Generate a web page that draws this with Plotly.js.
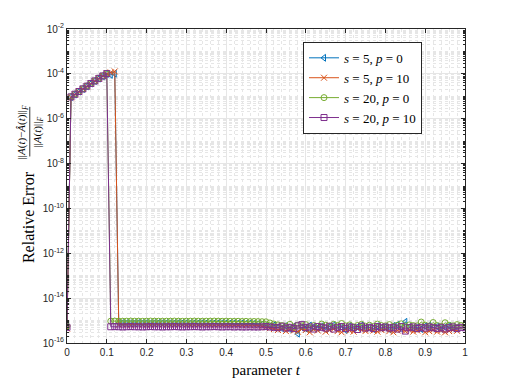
<!DOCTYPE html>
<html><head><meta charset="utf-8">
<script src="https://cdn.plot.ly/plotly-3.0.1.min.js"></script>
<style>body{margin:0;background:#fff}#plot{width:514px;height:385px}</style>
</head><body><div id="plot"></div>
<script>
// parameter t
const tValues = [0,0.01,0.02,0.03,0.04,0.05,0.06,0.07,0.08,0.09,0.10,0.11,0.12,0.13,0.14,0.15,0.16,0.17,0.18,0.19,
0.20,0.21,0.22,0.23,0.24,0.25,0.26,0.27,0.28,0.29,0.30,0.31,0.32,0.33,0.34,0.35,0.36,0.37,0.38,0.39,
0.40,0.41,0.42,0.43,0.44,0.45,0.46,0.47,0.48,0.49,0.50,0.51,0.52,0.53,0.54,0.55,0.56,0.57,0.58,0.59,
0.60,0.61,0.62,0.63,0.64,0.65,0.66,0.67,0.68,0.69,0.70,0.71,0.72,0.73,0.74,0.75,0.76,0.77,0.78,0.79,
0.80,0.81,0.82,0.83,0.84,0.85,0.86,0.87,0.88,0.89,0.90,0.91,0.92,0.93,0.94,0.95,0.96,0.97,0.98,0.99,1.00];

const seriesNames = ['<i>s</i> = 5, <i>p</i> = 0','<i>s</i> = 5, <i>p</i> = 10','<i>s</i> = 20, <i>p</i> = 0','<i>s</i> = 20, <i>p</i> = 10'];

const errS5P0 = [6.0e-16,
9.3e-6,1.22e-5,1.62e-5,2.12e-5,2.8e-5,3.7e-5,4.8e-5,6.2e-5,7.8e-5,9.8e-5,9.0e-5,1.02e-4,
7.8e-16,7.9e-16,7.8e-16,7.7e-16,7.8e-16,7.9e-16,7.8e-16,7.8e-16,7.7e-16,7.8e-16,
7.9e-16,7.8e-16,7.8e-16,7.7e-16,7.8e-16,7.8e-16,7.9e-16,7.8e-16,7.7e-16,7.8e-16,
7.8e-16,7.9e-16,7.8e-16,7.7e-16,7.8e-16,7.8e-16,7.9e-16,7.8e-16,7.7e-16,7.8e-16,
7.6e-16,7.7e-16,7.5e-16,7.6e-16,7.4e-16,
7.2e-16,6.8e-16,6.0e-16,5.5e-16,6.2e-16,5.0e-16,4.6e-16,5.8e-16,4.2e-16,5.5e-16,
2.6e-16,5.0e-16,4.4e-16,6.0e-16,5.2e-16,4.8e-16,5.6e-16,4.0e-16,5.4e-16,6.2e-16,
4.6e-16,5.0e-16,3.8e-16,5.6e-16,4.4e-16,5.2e-16,6.0e-16,4.8e-16,5.0e-16,4.2e-16,
5.6e-16,4.6e-16,5.2e-16,4.0e-16,5.8e-16,6.4e-16,4.4e-16,8.8e-16,5.2e-16,4.6e-16,
5.0e-16,4.2e-16,5.6e-16,6.0e-16,4.8e-16,5.4e-16,4.4e-16,5.0e-16,5.8e-16,4.6e-16,5.0e-16];

const errS5P10 = [4.4e-16,
9.0e-6,1.2e-5,1.6e-5,2.1e-5,2.75e-5,3.65e-5,4.75e-5,6.2e-5,8.0e-5,1.02e-4,1.15e-4,1.28e-4,
6.5e-16,6.6e-16,6.5e-16,6.4e-16,6.5e-16,6.6e-16,6.5e-16,6.5e-16,6.4e-16,6.5e-16,
6.6e-16,6.5e-16,6.5e-16,6.4e-16,6.5e-16,6.5e-16,6.6e-16,6.5e-16,6.4e-16,6.5e-16,
6.5e-16,6.6e-16,6.5e-16,6.4e-16,6.5e-16,6.5e-16,6.6e-16,6.5e-16,6.4e-16,6.5e-16,
6.4e-16,6.3e-16,6.4e-16,6.2e-16,6.2e-16,
6.0e-16,5.6e-16,5.0e-16,4.6e-16,4.2e-16,3.8e-16,4.4e-16,3.4e-16,4.0e-16,3.6e-16,
3.2e-16,4.2e-16,3.8e-16,3.0e-16,4.0e-16,3.6e-16,4.4e-16,3.2e-16,3.8e-16,4.2e-16,
3.4e-16,3.0e-16,4.0e-16,3.6e-16,3.2e-16,4.4e-16,3.8e-16,3.4e-16,4.0e-16,3.6e-16,
3.2e-16,3.8e-16,4.2e-16,3.4e-16,3.0e-16,3.6e-16,4.0e-16,3.4e-16,3.8e-16,3.2e-16,
3.6e-16,4.0e-16,3.0e-16,3.4e-16,3.8e-16,3.2e-16,3.6e-16,3.0e-16,3.4e-16,3.8e-16,3.5e-16];

const errS20P0 = [5.6e-16,
9.6e-6,1.25e-5,1.65e-5,2.15e-5,2.85e-5,3.75e-5,4.85e-5,6.3e-5,8.0e-5,1.0e-4,
9.4e-16,9.5e-16,9.4e-16,9.3e-16,9.4e-16,9.5e-16,9.4e-16,9.4e-16,9.3e-16,9.4e-16,
9.5e-16,9.4e-16,9.4e-16,9.3e-16,9.4e-16,9.4e-16,9.5e-16,9.4e-16,9.3e-16,9.4e-16,
9.4e-16,9.5e-16,9.4e-16,9.3e-16,9.4e-16,9.4e-16,9.5e-16,9.4e-16,9.3e-16,9.4e-16,
9.3e-16,9.2e-16,9.3e-16,9.1e-16,9.2e-16,9.0e-16,9.1e-16,9.0e-16,8.9e-16,
8.8e-16,7.8e-16,7.0e-16,6.4e-16,6.0e-16,5.6e-16,6.8e-16,5.2e-16,6.2e-16,5.8e-16,
6.6e-16,4.6e-16,6.0e-16,5.4e-16,7.0e-16,6.2e-16,5.6e-16,6.8e-16,6.0e-16,7.4e-16,
5.8e-16,6.4e-16,5.2e-16,6.0e-16,6.8e-16,5.6e-16,6.2e-16,5.4e-16,7.0e-16,6.0e-16,
5.8e-16,6.6e-16,5.4e-16,6.2e-16,7.2e-16,5.6e-16,6.4e-16,6.0e-16,5.8e-16,8.6e-16,
6.2e-16,5.6e-16,8.2e-16,6.0e-16,5.4e-16,8.0e-16,6.2e-16,5.8e-16,6.6e-16,6.0e-16,6.2e-16];

const errS20P10 = [5.0e-16,
9.4e-6,1.24e-5,1.63e-5,2.14e-5,2.82e-5,3.72e-5,4.85e-5,6.3e-5,8.1e-5,1.03e-4,
5.3e-16,5.4e-16,5.3e-16,5.2e-16,5.3e-16,5.4e-16,5.3e-16,5.3e-16,5.2e-16,5.3e-16,
5.4e-16,5.3e-16,5.3e-16,5.2e-16,5.3e-16,5.3e-16,5.4e-16,5.3e-16,5.2e-16,5.3e-16,
5.3e-16,5.4e-16,5.3e-16,5.2e-16,5.3e-16,5.3e-16,5.4e-16,5.3e-16,5.2e-16,5.3e-16,
5.3e-16,5.2e-16,5.3e-16,5.2e-16,5.2e-16,5.3e-16,5.2e-16,5.2e-16,5.3e-16,
5.4e-16,5.2e-16,5.0e-16,4.8e-16,5.6e-16,4.6e-16,5.0e-16,4.4e-16,5.8e-16,6.6e-16,
4.8e-16,5.2e-16,4.2e-16,5.4e-16,5.0e-16,4.6e-16,5.6e-16,4.2e-16,5.0e-16,5.4e-16,
4.4e-16,5.2e-16,4.8e-16,4.0e-16,5.6e-16,4.6e-16,5.0e-16,4.4e-16,5.4e-16,4.8e-16,
5.2e-16,4.6e-16,5.0e-16,4.2e-16,5.4e-16,3.4e-16,4.8e-16,5.2e-16,4.4e-16,5.0e-16,
4.6e-16,5.2e-16,4.8e-16,4.4e-16,5.0e-16,4.2e-16,4.8e-16,5.2e-16,4.4e-16,5.0e-16,4.8e-16];

const xTickVals = [0,0.1,0.2,0.3,0.4,0.5,0.6,0.7,0.8,0.9,1];
const xTickText = ['0','0.1','0.2','0.3','0.4','0.5','0.6','0.7','0.8','0.9','1'];
const yTickVals = [1e-16,1e-14,1e-12,1e-10,1e-8,1e-6,1e-4,1e-2];
const yTickText = ['10<sup>-16</sup>','10<sup>-14</sup>','10<sup>-12</sup>','10<sup>-10</sup>','10<sup>-8</sup>','10<sup>-6</sup>','10<sup>-4</sup>','10<sup>-2</sup>'];

// minor ticks for log axis (axis configuration)
const yMinor = [];
for (let k = -16; k < -2; k++) {
  for (let m = 1; m <= 9; m++) {
    if (m === 1 && k % 2 === 0) continue;
    yMinor.push(m * Math.pow(10, k));
  }
}

const colors = ['#0072BD','#D95319','#77AC30','#7E2F8E'];
const symbols = ['triangle-left-open','x-thin-open','circle-open','square-open'];
const ys = [errS5P0, errS5P10, errS20P0, errS20P10];

const traces = ys.map((y, i) => ({
  x: tValues, y: y, type: 'scatter', mode: 'lines+markers', name: seriesNames[i],
  line: {color: colors[i], width: 1},
  marker: {symbol: symbols[i], size: 6, color: colors[i], line: {color: colors[i], width: 1}}
}));

const serif = 'Liberation Serif, Times New Roman, serif';
const tickFont = {family: 'Liberation Sans, Arial, sans-serif', size: 10, color: '#262626'};

const layout = {
  width: 514, height: 385,
  margin: {l: 67, r: 49, t: 29, b: 42},
  paper_bgcolor: '#ffffff', plot_bgcolor: '#ffffff',
  showlegend: true,
  legend: {x: 0.593, y: 0.959, xanchor: 'left', yanchor: 'top', bgcolor: '#ffffff',
           bordercolor: '#262626', borderwidth: 1, font: {family: serif, size: 13, color: '#000'},
           tracegroupgap: 0, itemwidth: 30},
  xaxis: {
    range: [0, 1], tickmode: 'array', tickvals: xTickVals, ticktext: xTickText,
    tickfont: tickFont, ticks: 'inside', ticklen: 4, tickcolor: '#262626',
    showline: true, linecolor: '#262626', linewidth: 1, mirror: 'ticks',
    showgrid: true, gridcolor: '#e6e6e6', gridwidth: 1, zeroline: false,
    minor: {dtick: 0.02, showgrid: true, gridcolor: '#e6e6e6', griddash: 'dot', ticks: ''},
    title: {text: 'parameter <i>t</i>', font: {family: serif, size: 15, color: '#000'}, standoff: 7}
  },
  yaxis: {
    type: 'log', range: [-16, -2], tickmode: 'array', tickvals: yTickVals, ticktext: yTickText,
    tickfont: tickFont, ticks: 'inside', ticklen: 4, tickcolor: '#262626',
    showline: true, linecolor: '#262626', linewidth: 1, mirror: 'ticks',
    showgrid: true, gridcolor: '#e6e6e6', gridwidth: 1, zeroline: false,
    minor: {tickmode: 'array', tickvals: yMinor, showgrid: true, gridcolor: '#e6e6e6', griddash: 'dot',
            ticks: 'inside', ticklen: 2, tickcolor: '#262626'}
  },
  annotations: [
    {text: 'Relative Error', xref: 'paper', yref: 'paper', x: -0.098, y: 0.401, textangle: -90,
     showarrow: false, font: {family: serif, size: 16, color: '#000'}, xanchor: 'center', yanchor: 'middle'},
    {text: '||<i>A</i>(<i>t</i>)−<i>Â</i>(<i>t</i>)||<sub><i>F</i></sub>', xref: 'paper', yref: 'paper',
     x: -0.112, y: 0.672, textangle: -90, showarrow: false,
     font: {family: serif, size: 11, color: '#000'}, xanchor: 'center', yanchor: 'middle'},
    {text: '||<i>A</i>(<i>t</i>)||<sub><i>F</i></sub>', xref: 'paper', yref: 'paper',
     x: -0.074, y: 0.672, textangle: -90, showarrow: false,
     font: {family: serif, size: 11, color: '#000'}, xanchor: 'center', yanchor: 'middle'}
  ],
  shapes: [
    {type: 'line', xref: 'paper', yref: 'paper', x0: -0.0935, x1: -0.0935, y0: 0.594, y1: 0.752,
     line: {color: '#000', width: 0.8}}
  ]
};

Plotly.newPlot('plot', traces, layout, {displayModeBar: false, staticPlot: true});
</script>
</body></html>
